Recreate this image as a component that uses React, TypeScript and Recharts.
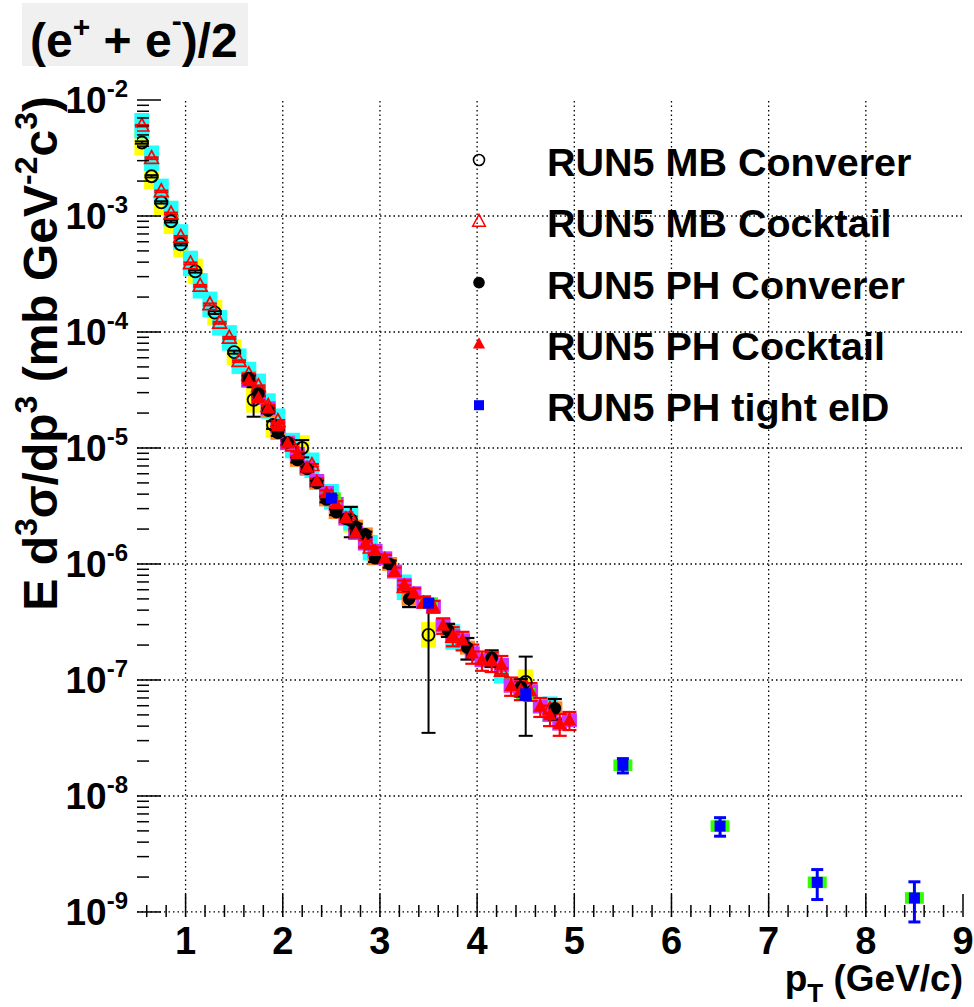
import React from 'react';
import { ScatterChart, Scatter, XAxis, YAxis, ErrorBar, ReferenceLine, ReferenceArea } from 'recharts';

const FONT = '"Liberation Sans", Arial, Helvetica, sans-serif';

// ---------- data ----------
// RUN5 MB Converer (open circles, yellow sys boxes)
const mbConvX = [0.55, 0.65, 0.75, 0.85, 0.95, 1.1, 1.3, 1.5, 1.7, 1.9, 2.2, 2.7, 3.5, 4.5];
const mbConvY = [4.3e-3, 2.2e-3, 1.31e-3, 9.0e-4, 5.7e-4, 3.33e-4, 1.47e-4, 6.7e-5, 2.6e-5, 1.58e-5, 1.0e-5, 2.4e-6, 2.45e-7, 9.6e-8];
const mbConvErr = [1e-4, 5e-5, 3e-5, 2e-5, 1.2e-5, 8e-6, 4e-6, 2e-6, 7.4e-6, 1.2e-6, 1.7e-6, 7e-7, 2.1e-7, 6.3e-8];

// RUN5 MB Cocktail (open red triangles, cyan sys boxes)
const mbCockX = [0.55, 0.65, 0.75, 0.85, 0.95, 1.05, 1.15, 1.25, 1.35, 1.45, 1.55, 1.65, 1.75, 1.85, 1.95, 2.1, 2.3, 2.5, 2.7, 2.9, 3.25, 3.75, 4.25, 4.75];
const mbCockY = [6.0e-3, 3.15e-3, 1.63e-3, 1.05e-3, 6.6e-4, 3.9e-4, 2.5e-4, 1.73e-4, 1.2e-4, 8.9e-5, 5.6e-5, 4.3e-5, 3.4e-5, 2.3e-5, 1.7e-5, 1.05e-5, 7.1e-6, 3.8e-6, 2.5e-6, 1.38e-6, 6.3e-7, 2.35e-7, 1.2e-7, 5.6e-8];
const mbCockErr = [1e-4, 6e-5, 3e-5, 2e-5, 1.3e-5, 8e-6, 5e-6, 3.5e-6, 2.4e-6, 1.8e-6, 1.1e-6, 9e-7, 7e-7, 5e-7, 4e-7, 2.5e-7, 1.8e-7, 1.0e-7, 7e-8, 4e-8, 2.5e-8, 1.2e-8, 7e-9, 4e-9];

// RUN5 PH Converer (black dots, orange sys boxes)
const phConvX = [1.65, 1.75, 1.85, 1.95, 2.05, 2.15, 2.25, 2.35, 2.45, 2.55, 2.65, 2.75, 2.85, 2.95, 3.1, 3.3, 3.7, 3.9, 4.15, 4.45, 4.8];
const phConvY = [4.0e-5, 2.95e-5, 2.1e-5, 1.35e-5, 1.12e-5, 7.9e-6, 6.6e-6, 5.0e-6, 3.6e-6, 2.8e-6, 2.45e-6, 2.1e-6, 1.8e-6, 1.12e-6, 1.0e-6, 5.0e-7, 2.7e-7, 1.9e-7, 1.55e-7, 8.7e-8, 5.7e-8];
const phConvErr = [2e-6, 1.5e-6, 1.0e-6, 8e-7, 6e-7, 4e-7, 3.5e-7, 2.5e-7, 2e-7, 1.6e-7, 1.4e-7, 1.2e-7, 1.0e-7, 8e-8, 7e-8, 7.5e-8, 3.5e-8, 4e-8, 2.5e-8, 1.5e-8, 1.15e-8];

// RUN5 PH Cocktail (filled red triangles, magenta sys boxes)
const phCockX = [1.65, 1.75, 1.85, 1.95, 2.05, 2.15, 2.25, 2.35, 2.45, 2.55, 2.65, 2.75, 2.85, 2.95, 3.05, 3.15, 3.25, 3.35, 3.45, 3.55, 3.65, 3.75, 3.85, 3.95, 4.05, 4.15, 4.25, 4.35, 4.45, 4.55, 4.65, 4.75, 4.85, 4.95];
const phCockY = [3.8e-5, 2.7e-5, 2.2e-5, 1.55e-5, 1.1e-5, 8.9e-6, 6.8e-6, 5.2e-6, 4.1e-6, 3.3e-6, 2.5e-6, 1.85e-6, 1.5e-6, 1.3e-6, 1.12e-6, 8.6e-7, 6.6e-7, 5.6e-7, 4.7e-7, 4.3e-7, 2.95e-7, 2.4e-7, 2.2e-7, 1.7e-7, 1.48e-7, 1.45e-7, 1.35e-7, 8.9e-8, 8.2e-8, 8.0e-8, 5.9e-8, 5.0e-8, 4.2e-8, 4.5e-8];
const phCockErr = [1.5e-6, 1.1e-6, 9e-7, 7e-7, 5e-7, 4e-7, 3.2e-7, 2.6e-7, 2.1e-7, 1.8e-7, 1.5e-7, 1.2e-7, 1.0e-7, 9e-8, 8e-8, 7e-8, 6e-8, 5.5e-8, 5e-8, 5e-8, 4.5e-8, 4.5e-8, 4e-8, 3.2e-8, 2.8e-8, 2.8e-8, 2.6e-8, 1.6e-8, 1.5e-8, 1.4e-8, 1.1e-8, 1.0e-8, 9e-9, 8e-9];

// RUN5 PH tight eID (blue squares, green sys boxes)
const phTightX = [2.5, 3.5, 4.5, 5.5, 6.5, 7.5, 8.5];
const phTightY = [3.7e-6, 4.6e-7, 7.6e-8, 1.84e-8, 5.5e-9, 1.8e-9, 1.32e-9];
const phTightErr = [1.5e-7, 3e-8, 8e-9, 2.6e-9, 1.0e-9, 5.2e-10, 5.0e-10];

// systematic half-heights (in decades)
const mbConvSys = 0.11;
const mbCockSys = 0.11;
const phConvSys = 0.06;
const phCockSys = 0.06;
const phTightSys = 0.05;

// axes
const xMajorTicks = [1, 2, 3, 4, 5, 6, 7, 8, 9];
const yMajorExps = [-9, -8, -7, -6, -5, -4, -3, -2];
const xGrid = [1, 2, 3, 4, 5, 6, 7, 8];
const yGrid = [1e-3, 1e-4, 1e-5, 1e-6, 1e-7, 1e-8, 1e-9];
const X_DOMAIN = [0.5, 9];
const Y_DOMAIN = [9.05e-10, 1e-2];

const legendItems = ['RUN5 MB Converer', 'RUN5 MB Cocktail', 'RUN5 PH Converer', 'RUN5 PH Cocktail', 'RUN5 PH tight eID'];

// ---------- build tables ----------
type Pt = { x: number; y: number; err: number; sys: [number, number] };
const build = (xs: number[], ys: number[], errs: number[], sysDec: number): Pt[] =>
  xs.map((x, i) => ({
    x,
    y: ys[i],
    err: errs[i],
    sys: [ys[i] - ys[i] / Math.pow(10, sysDec), ys[i] * Math.pow(10, sysDec) - ys[i]],
  }));

const mbConv = build(mbConvX, mbConvY, mbConvErr, mbConvSys);
const mbCock = build(mbCockX, mbCockY, mbCockErr, mbCockSys);
const phConv = build(phConvX, phConvY, phConvErr, phConvSys);
const phCock = build(phCockX, phCockY, phCockErr, phCockSys);
const phTight = build(phTightX, phTightY, phTightErr, phTightSys);

const xTicks: number[] = [];
for (let i = 3; i <= 45; i++) xTicks.push(Math.round(i * 0.2 * 1000) / 1000);
const yTicks: number[] = [];
yMajorExps.forEach((e) => {
  if (e === -2) {
    yTicks.push(Math.pow(10, e));
    return;
  }
  for (let m = 1; m <= 9; m++) yTicks.push(m * Math.pow(10, e));
});

// ---------- shapes ----------
const Nothing = () => <g />;
const triPath = (cx: number, cy: number, s: number) =>
  `M${cx},${cy - s * 0.6} L${cx + s * 0.55},${cy + s * 0.42} L${cx - s * 0.55},${cy + s * 0.42} Z`;

const OpenCircle = (p: any) => <circle cx={p.cx} cy={p.cy} r={6} fill="none" stroke="#000" strokeWidth={1.9} />;
const OpenTri = (p: any) => <path d={triPath(p.cx, p.cy, 12.5)} fill="none" stroke="#ff0000" strokeWidth={1.7} />;
const Dot = (p: any) => <circle cx={p.cx} cy={p.cy} r={6.3} fill="#000" />;
const FillTri = (p: any) => <path d={triPath(p.cx, p.cy, 12.5)} fill="#ff0000" />;
const Square = (p: any) => <rect x={p.cx - 5.5} y={p.cy - 5.5} width={11} height={11} fill="#0000ff" />;

// ---------- ticks ----------
const XTick = (props: any) => {
  const { x, y, payload } = props;
  const v = payload.value;
  const major = xMajorTicks.some((t) => Math.abs(v - t) < 1e-6);
  return (
    <g>
      <line x1={x} x2={x} y1={y} y2={y - (major ? 23 : 12)} stroke="#000" strokeWidth={1.5} />
      {major && (
        <text x={x} y={y + 37} textAnchor="middle" fontFamily={FONT} fontWeight="bold" fontSize={38} fill="#000">
          {Math.round(v)}
        </text>
      )}
    </g>
  );
};

const YTick = (props: any) => {
  const { x, y, payload } = props;
  const v = payload.value;
  const lg = Math.log10(v);
  const e = Math.round(lg);
  const major = Math.abs(lg - e) < 1e-6;
  return (
    <g>
      <line x1={x} x2={x + (major ? 24 : 12)} y1={y} y2={y} stroke="#000" strokeWidth={1.5} />
      {major && (
        <text x={x - 9} y={y + 13} textAnchor="end" fontFamily={FONT} fontWeight="bold" fontSize={37} fill="#000">
          10
          <tspan dy={-16} fontSize={24}>
            {String(e)}
          </tspan>
        </text>
      )}
    </g>
  );
};

// ---------- legend ----------
const legendMarkers = [
  (cx: number, cy: number) => <circle cx={cx} cy={cy} r={5.5} fill="none" stroke="#000" strokeWidth={1.6} />,
  (cx: number, cy: number) => <path d={triPath(cx, cy, 11.5)} fill="none" stroke="#ff0000" strokeWidth={1.5} />,
  (cx: number, cy: number) => <circle cx={cx} cy={cy} r={5.8} fill="#000" />,
  (cx: number, cy: number) => <path d={triPath(cx, cy, 11)} fill="#ff0000" />,
  (cx: number, cy: number) => <rect x={cx - 5} y={cy - 5} width={10} height={10} fill="#0000ff" />,
];

export default function App() {
  const boxSeries = [
    { data: mbConv, color: '#ffff00', w: 15 },
    { data: mbCock, color: '#22ffff', w: 15 },
    { data: phConv, color: '#ff8822', w: 15 },
    { data: phCock, color: '#cc33ff', w: 15 },
    { data: phTight, color: '#33ff00', w: 19 },
  ];
  return (
    <div style={{ position: 'absolute', left: 0, top: 0, width: 974, height: 1007, background: '#fff' }}>
      <ScatterChart width={974} height={1007} margin={{ top: 100, right: 11, bottom: 0, left: 0 }}>
        <XAxis
          type="number"
          dataKey="x"
          domain={X_DOMAIN}
          allowDataOverflow
          ticks={xTicks}
          interval={0}
          tick={<XTick />}
          tickSize={0}
          tickMargin={0}
          tickLine={false}
          axisLine={false}
          height={90}
        />
        <YAxis
          type="number"
          dataKey="y"
          scale="log"
          domain={Y_DOMAIN}
          allowDataOverflow
          ticks={yTicks}
          interval={0}
          tick={<YTick />}
          tickSize={0}
          tickMargin={0}
          tickLine={false}
          axisLine={false}
          width={137}
        />
        {xGrid.map((v) => (
          <ReferenceLine key={'gx' + v} x={v} stroke="#000" strokeWidth={1.3} strokeDasharray="1.5 3" />
        ))}
        {yGrid.map((v) => (
          <ReferenceLine key={'gy' + v} y={v} stroke="#000" strokeWidth={1.3} strokeDasharray="1.5 3" />
        ))}
        {boxSeries.map((s, i) => (
          <Scatter key={'box' + i} data={s.data} shape={Nothing} isAnimationActive={false} legendType="none">
            <ErrorBar dataKey="sys" direction="y" width={0} stroke={s.color} strokeWidth={s.w} isAnimationActive={false} />
          </Scatter>
        ))}
        <Scatter data={mbConv} shape={OpenCircle} isAnimationActive={false} name={legendItems[0]}>
          <ErrorBar dataKey="err" direction="y" width={7} stroke="#000" strokeWidth={2} isAnimationActive={false} />
        </Scatter>
        <Scatter data={mbCock} shape={OpenTri} isAnimationActive={false} name={legendItems[1]}>
          <ErrorBar dataKey="err" direction="y" width={7} stroke="#ff0000" strokeWidth={2} isAnimationActive={false} />
        </Scatter>
        <Scatter data={phConv} shape={Dot} isAnimationActive={false} name={legendItems[2]}>
          <ErrorBar dataKey="err" direction="y" width={7} stroke="#000" strokeWidth={2.2} isAnimationActive={false} />
        </Scatter>
        <Scatter data={phCock} shape={FillTri} isAnimationActive={false} name={legendItems[3]}>
          <ErrorBar dataKey="err" direction="y" width={7} stroke="#ff0000" strokeWidth={2.2} isAnimationActive={false} />
        </Scatter>
        <Scatter data={phTight} shape={Square} isAnimationActive={false} name={legendItems[4]}>
          <ErrorBar dataKey="err" direction="y" width={6} stroke="#0000ff" strokeWidth={3} isAnimationActive={false} />
        </Scatter>
        <ReferenceArea fill="none" fillOpacity={0} stroke="#000" strokeWidth={2.5} ifOverflow="visible" />
      </ScatterChart>
      <svg
        width={974}
        height={1007}
        style={{ position: 'absolute', left: 0, top: 0, pointerEvents: 'none' }}
        fontFamily={FONT}
        fontWeight="bold"
      >
        <rect x={22} y={3} width={226} height={63} fill="#f0f0f0" />
        <text x={30} y={57} fontSize={48} fill="#000">
          (e
          <tspan dy={-20} fontSize={30}>+</tspan>
          <tspan dy={20}>{' + e'}</tspan>
          <tspan dy={-26} fontSize={30}>-</tspan>
          <tspan dy={26}>)/2</tspan>
        </text>
        <text transform="translate(57, 96) rotate(-90)" textAnchor="end" fontSize={48} fill="#000">
          E d
          <tspan dy={-20} fontSize={32}>3</tspan>
          <tspan dy={20}>σ/dp</tspan>
          <tspan dy={-20} fontSize={32}>3</tspan>
          <tspan dy={20}>{' (mb GeV'}</tspan>
          <tspan dy={-20} fontSize={32}>-2</tspan>
          <tspan dy={20}>c</tspan>
          <tspan dy={-20} fontSize={32}>3</tspan>
          <tspan dy={20}>)</tspan>
        </text>
        <text x={963} y={991} textAnchor="end" fontSize={37} fill="#000">
          p
          <tspan dy={11} fontSize={26}>T</tspan>
          <tspan dy={-11}>{' (GeV/c)'}</tspan>
        </text>
        {legendItems.map((label, i) => {
          const cy = 160 + i * 61.3;
          return (
            <g key={label}>
              {legendMarkers[i](479, cy)}
              <text x={547} y={cy + 16} fontSize={39.5} fill="#000">
                {label}
              </text>
            </g>
          );
        })}
      </svg>
    </div>
  );
}
